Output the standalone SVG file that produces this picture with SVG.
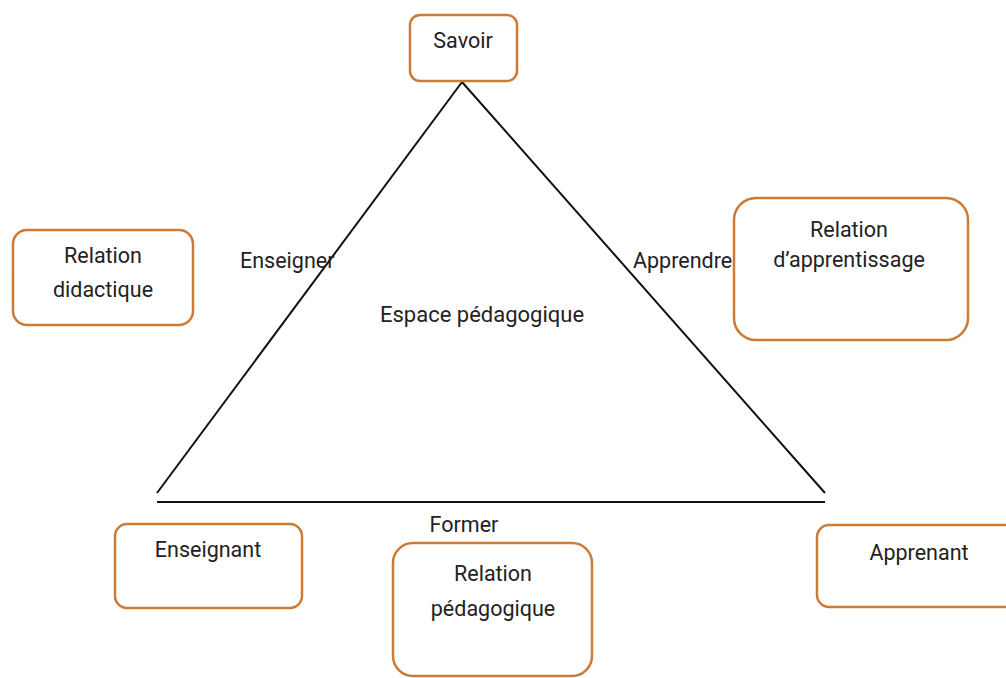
<svg xmlns="http://www.w3.org/2000/svg" width="1006" height="678" viewBox="0 0 1006 678">
<style>
.box{fill:#fff;stroke:#cd7a36;stroke-width:2.5}
.t{font-family:Roboto,"Liberation Sans",sans-serif;font-size:21.5px;fill:#222}
.m{text-anchor:middle}
.edge{stroke:#111;stroke-width:2;fill:none}
</style>
<rect width="1006" height="678" fill="#fff"/>
<g id="connectors">
<line class="edge" x1="462" y1="82" x2="157" y2="493"/>
<line class="edge" x1="462" y1="82" x2="825" y2="493"/>
<line class="edge" x1="157" y1="502" x2="825" y2="502"/>
<text class="t" x="240" y="268">Enseigner</text>
<text class="t" x="633" y="268">Apprendre</text>
<text class="t m" x="464" y="532">Former</text>
</g>
<g id="espace"><text class="t" x="380" y="322" style="font-size:22px">Espace pédagogique</text></g>
<g id="savoir">
<rect class="box" x="410" y="15" width="107" height="66" rx="10"/>
<text class="t m" x="463" y="48">Savoir</text>
</g>
<g id="relation-didactique">
<rect class="box" x="13" y="230" width="180" height="95" rx="14"/>
<text class="t m" x="103" y="263">Relation</text>
<text class="t m" x="103" y="297">didactique</text>
</g>
<g id="relation-apprentissage">
<rect class="box" x="734" y="198" width="234" height="142" rx="22"/>
<text class="t m" x="849" y="237">Relation</text>
<text class="t m" x="849" y="267">d’apprentissage</text>
</g>
<g id="enseignant">
<rect class="box" x="115" y="524" width="187" height="84" rx="12"/>
<text class="t m" x="208" y="557">Enseignant</text>
</g>
<g id="relation-pedagogique">
<rect class="box" x="393" y="543" width="199" height="133" rx="20"/>
<text class="t m" x="493" y="581">Relation</text>
<text class="t m" x="493" y="616">pédagogique</text>
</g>
<g id="apprenant">
<rect class="box" x="817" y="525" width="200" height="82" rx="12"/>
<text class="t m" x="919" y="560">Apprenant</text>
</g>
</svg>
